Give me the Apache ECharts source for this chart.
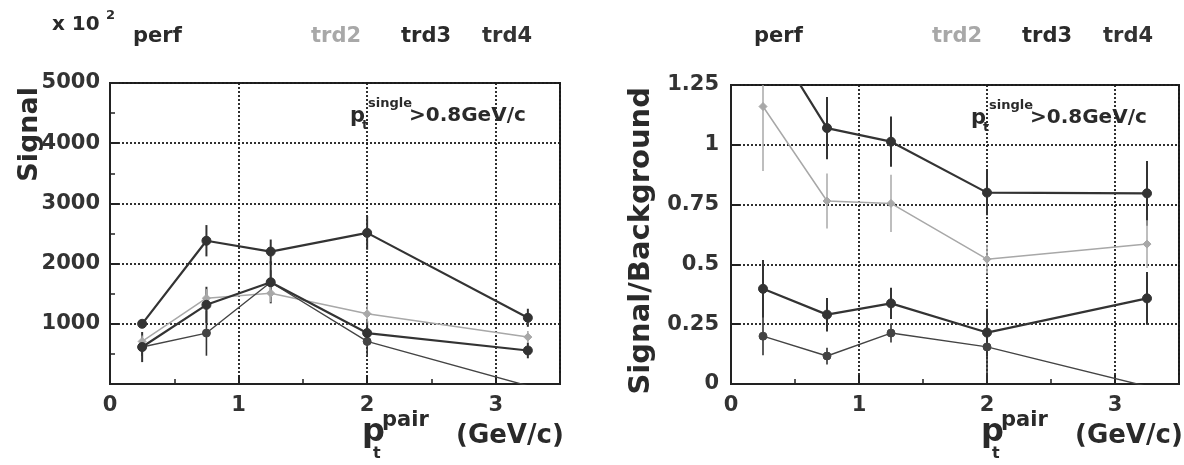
<!DOCTYPE html>
<html><head><meta charset="utf-8">
<script src="https://cdn.jsdelivr.net/npm/echarts@6/dist/echarts.min.js"></script>
<style>html,body{margin:0;padding:0;background:#fff}#c{width:1184px;height:465px}</style>
</head><body><div id="c"></div>
<script>
// ---------- data ----------
const xPt = [0.25, 0.75, 1.25, 2, 3.25];
const xTickLabels = ['0', '1', '2', '3'];
const yTickLabelsL = ['0', '1000', '2000', '3000', '4000', '5000'];
const yTickLabelsR = ['0', '0.25', '0.5', '0.75', '1', '1.25'];
const headerLabels = ['perf', 'trd2', 'trd3', 'trd4'];

// Signal (x 10^2)
const sigTop    = [1000, 2380, 2200, 2510, 1100];
const sigTopErr = [60, 260, 200, 280, 150];
const sigMid    = [614, 1315, 1690, 846, 557];
const sigMidErr = [250, 300, 350, 200, 130];
const sigLow    = [614, 846, 1690, 707, -30];
const sigLowErr = [150, 376, 200, 250, 0];
const sigGray    = [707, 1426, 1509, 1166, 780];
const sigGrayErr = [100, 150, 150, 150, 100];

// Signal / Background
const sbTop    = [1.50, 1.07, 1.013, 0.80, 0.797];
const sbTopErr = [0.15, 0.13, 0.105, 0.095, 0.135];
const sbGray    = [1.16, 0.765, 0.755, 0.522, 0.585];
const sbGrayErr = [0.27, 0.115, 0.12, 0.06, 0.1];
const sbMid    = [0.398, 0.29, 0.337, 0.215, 0.358];
const sbMidErr = [0.12, 0.07, 0.065, 0.1, 0.11];
const sbLow    = [0.20, 0.117, 0.213, 0.155, -0.01];
const sbLowErr = [0.08, 0.035, 0.04, 0.15, 0];

// ---------- styling ----------
const FONT = '"DejaVu Sans", "Liberation Sans", sans-serif';
const DARK = '#333333';
const GRAY = '#a8a8a8';
const GRIDS = [
  {left: 110, top: 83, width: 450, height: 301},
  {left: 731, top: 85, width: 448, height: 299}
];
const DOT = {color: '#1a1a1a', type: [2, 2], width: 1.8};

function xAxisFor(gi) {
  return {
    gridIndex: gi, type: 'value', min: 0, max: 3.5, interval: 1,
    axisLine: {show: true, lineStyle: {color: '#222', width: 2}},
    axisTick: {show: true, inside: true, length: 9, lineStyle: {color: '#222', width: 2}},
    minorTick: {show: true, splitNumber: 2, length: 5, lineStyle: {color: '#222', width: 1.5}},
    axisLabel: {fontFamily: FONT, fontWeight: 'bold', fontSize: 21, color: '#333', margin: 11,
      formatter: v => (Number.isInteger(v) && xTickLabels[v] !== undefined) ? xTickLabels[v] : ''},
    splitLine: {show: true, lineStyle: DOT}
  };
}
function yAxisFor(gi, max, interval, labels, minor, showMin) {
  return {
    gridIndex: gi, type: 'value', min: 0, max: max, interval: interval,
    axisLine: {show: true, lineStyle: {color: '#222', width: 2}},
    axisTick: {show: true, inside: true, length: 9, lineStyle: {color: '#222', width: 2}},
    minorTick: {show: minor, splitNumber: 2, length: 5, lineStyle: {color: '#222', width: 1.5}},
    axisLabel: {fontFamily: FONT, fontWeight: 'bold', fontSize: 21, color: '#333', margin: gi === 0 ? 10 : 12,
      showMinLabel: showMin,
      formatter: v => { const i = Math.round(v / interval); return labels[i] !== undefined ? labels[i] : ''; }},
    splitLine: {show: true, lineStyle: DOT}
  };
}

function lineSeries(gi, ys, color, width, symbol, size) {
  return {
    type: 'line', xAxisIndex: gi, yAxisIndex: gi, clip: true, z: 3,
    data: xPt.map((x, i) => [x, ys[i]]),
    symbol: symbol, symbolSize: size, showAllSymbol: true,
    lineStyle: {color: color, width: width},
    itemStyle: {color: color, borderColor: color},
    emphasis: {disabled: true}, animation: false
  };
}
function errSeries(gi, ys, errs, color, width) {
  return {
    type: 'custom', xAxisIndex: gi, yAxisIndex: gi, z: 2, animation: false,
    data: xPt.map((x, i) => [x, ys[i] - errs[i], ys[i] + errs[i]]).filter((d, i) => errs[i] > 0),
    encode: {x: 0, y: [1, 2]},
    renderItem: function (params, api) {
      const x = api.value(0);
      const p1 = api.coord([x, api.value(1)]);
      const p2 = api.coord([x, api.value(2)]);
      const cs = params.coordSys;
      const clamp = v => Math.min(Math.max(v, cs.y), cs.y + cs.height);
      const y1 = clamp(p1[1]), y2 = clamp(p2[1]);
      if (Math.abs(y1 - y2) < 0.5) return null;
      return {type: 'line', shape: {x1: p1[0], y1: y1, x2: p2[0], y2: y2},
        style: {stroke: color, lineWidth: width}};
    }
  };
}

// ---------- text annotations (y = vertical middle of text) ----------
function txt(t, x, y, size, opts) {
  opts = opts || {};
  return {type: 'text', x: x, y: y, rotation: opts.rotation || 0, z: 100, silent: true,
    style: {text: t, fontFamily: FONT, fontWeight: 'bold', fontSize: size,
      fill: opts.fill || '#2a2a2a', align: opts.align || 'left', verticalAlign: 'middle'}};
}
const graphics = [];
const headerOffsets = [23, 201, 291, 372];
const headerColors = ['#2a2a2a', '#a8a8a8', '#2a2a2a', '#333'];
GRIDS.forEach((g, gi) => {
  headerLabels.forEach((lab, i) => graphics.push(txt(lab, g.left + headerOffsets[i], 37, 21, {fill: headerColors[i]})));
  // p_t^single > 0.8 GeV/c
  const px = g.left + 240, cy = g.top + 33;
  graphics.push(txt('p', px, cy + 1, 21));
  graphics.push(txt('t', px + 12, cy + 10, 13));
  graphics.push(txt('single', px + 18, cy - 12, 13));
  graphics.push(txt('>0.8GeV/c', px + 59, cy, 20));
  // x axis title
  const tx = g.left + g.width - 198;
  graphics.push(txt('p', tx, 433, 32));
  graphics.push(txt('t', tx + 11, 454, 16));
  graphics.push(txt('pair', tx + 20, 421, 21));
  graphics.push(txt('(GeV/c)', tx + 94, 436, 26));
});
graphics.push(txt('x 10', 52, 25, 20));
graphics.push(txt('2', 106, 16, 13));
graphics.push(txt('Signal', 30, 87, 27, {rotation: Math.PI / 2, align: 'right'}));
graphics.push(txt('Signal/Background', 641, 87, 29, {rotation: Math.PI / 2, align: 'right'}));

const chart = echarts.init(document.getElementById('c'), null, {renderer: 'canvas'});
chart.setOption({
  animation: false,
  backgroundColor: '#fff',
  grid: GRIDS.map(g => Object.assign({show: true, borderColor: '#222', borderWidth: 2, backgroundColor: 'transparent'}, g)),
  xAxis: [xAxisFor(0), xAxisFor(1)],
  yAxis: [yAxisFor(0, 5000, 1000, yTickLabelsL, true, false), yAxisFor(1, 1.25, 0.25, yTickLabelsR, false, true)],
  series: [
    errSeries(0, sigTop, sigTopErr, DARK, 2),
    errSeries(0, sigMid, sigMidErr, DARK, 2),
    errSeries(0, sigLow, sigLowErr, DARK, 1.6),
    errSeries(0, sigGray, sigGrayErr, GRAY, 1.5),
    lineSeries(0, sigGray, GRAY, 1.5, 'diamond', 8),
    lineSeries(0, sigLow, '#444', 1.4, 'circle', 8),
    lineSeries(0, sigMid, DARK, 2.2, 'circle', 9),
    lineSeries(0, sigTop, DARK, 2.2, 'circle', 9),
    errSeries(1, sbTop, sbTopErr, DARK, 2),
    errSeries(1, sbGray, sbGrayErr, GRAY, 1.5),
    errSeries(1, sbMid, sbMidErr, DARK, 2),
    errSeries(1, sbLow, sbLowErr, DARK, 1.6),
    lineSeries(1, sbGray, GRAY, 1.5, 'diamond', 8),
    lineSeries(1, sbLow, '#444', 1.4, 'circle', 8),
    lineSeries(1, sbMid, DARK, 2.2, 'circle', 9),
    lineSeries(1, sbTop, DARK, 2.2, 'circle', 9)
  ],
  graphic: graphics
});
</script></body></html>
